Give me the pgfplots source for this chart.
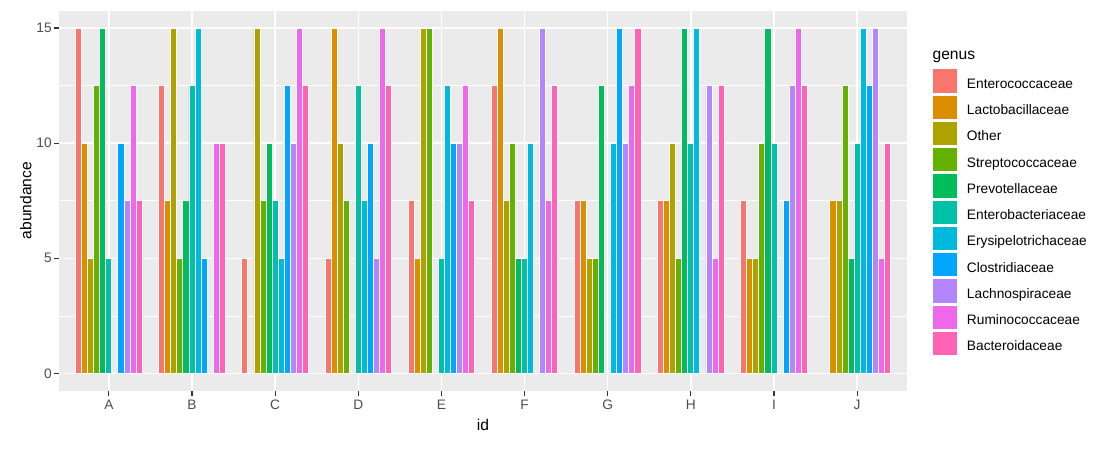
\documentclass[border=0pt]{standalone}
\usepackage{fontspec}
\setmainfont{Liberation Sans}
\usepackage{pgfplots}
\pgfplotsset{compat=1.18}
\definecolor{c1}{HTML}{F8766D}
\definecolor{c2}{HTML}{DB8E00}
\definecolor{c3}{HTML}{AEA200}
\definecolor{c4}{HTML}{64B200}
\definecolor{c5}{HTML}{00BD5C}
\definecolor{c6}{HTML}{00C1A7}
\definecolor{c7}{HTML}{00BADE}
\definecolor{c8}{HTML}{00A6FF}
\definecolor{c9}{HTML}{B385FF}
\definecolor{c10}{HTML}{EF67EB}
\definecolor{c11}{HTML}{FF63B6}
\definecolor{panelgrey}{HTML}{EBEBEB}
\definecolor{labelgrey}{HTML}{4D4D4D}
\definecolor{tickgrey}{HTML}{333333}
\pgfplotsset{
  gbar/.style={fill=#1, draw=white, line width=0.7pt,
    legend image code/.code={\fill[#1,draw=none] (0pt,-8.75pt) rectangle (18pt,8.75pt);}},
}
\begin{document}
\begin{tikzpicture}
\useasboundingbox (-44.25pt,-45.2pt) rectangle (779.25pt,293.05pt);
\begin{axis}[
  at={(0,0)}, anchor=south west,
  scale only axis, width=636pt, height=285pt,
  clip=false,
  xmin=0.4, xmax=10.6, ymin=-0.75, ymax=15.75,
  xtick={1,2,3,4,5,6,7,8,9,10},
  xticklabels={A,B,C,D,E,F,G,H,I,J},
  ytick={0,5,10,15}, minor ytick={2.5,7.5,12.5},
  grid=both,
  major grid style={white, line width=1.1pt},
  minor grid style={white, line width=0.55pt},
  axis background/.style={fill=panelgrey},
  axis line style={draw=none},
  xtick pos=lower, ytick pos=left,
  tick align=outside,
  major tick length=3.75pt, minor tick length=0pt,
  tick style={color=tickgrey, line width=0.8pt},
  /pgf/number format/assume math mode=true,
  tick label style={font=\fontsize{10.3}{12}\selectfont, text=labelgrey},
  xticklabel style={inner sep=0pt, yshift=-3pt},
  yticklabel style={inner sep=0pt, xshift=-1.5pt},
  xlabel={id}, ylabel={abundance},
  every axis x label/.style={at={(axis description cs:0.5,-0.0891)}, anchor=center, font=\fontsize{11.7}{14}\selectfont},
  every axis y label/.style={at={(axis description cs:-0.0392,0.5)}, anchor=center, rotate=90, font=\fontsize{11.7}{14}\selectfont},
  ybar, bar width=0.0727273,
  legend cell align=left,
  legend style={at={(axis description cs:1.0303,0.8467)}, anchor=north west,
    draw=none, fill=none, inner sep=0pt, row sep=2.2pt, column sep=7.5pt,
    font=\fontsize{10.3}{12}\selectfont,
    nodes={inner sep=0pt, anchor=west, text height=11pt, text depth=0pt}},
]
\addplot[gbar=c1, bar shift=-0.363636] coordinates {(1,15) (2,12.5) (3,5) (4,5) (5,7.5) (6,12.5) (7,7.5) (8,7.5) (9,7.5)};
\addlegendentry{Enterococcaceae}
\addplot[gbar=c2, bar shift=-0.290909] coordinates {(1,10) (2,7.5) (4,15) (5,5) (6,15) (7,7.5) (8,7.5) (9,5) (10,7.5)};
\addlegendentry{Lactobacillaceae}
\addplot[gbar=c3, bar shift=-0.218182] coordinates {(1,5) (2,15) (3,15) (4,10) (5,15) (6,7.5) (7,5) (8,10) (9,5) (10,7.5)};
\addlegendentry{Other}
\addplot[gbar=c4, bar shift=-0.145455] coordinates {(1,12.5) (2,5) (3,7.5) (4,7.5) (5,15) (6,10) (7,5) (8,5) (9,10) (10,12.5)};
\addlegendentry{Streptococcaceae}
\addplot[gbar=c5, bar shift=-0.072727] coordinates {(1,15) (2,7.5) (3,10) (6,5) (7,12.5) (8,15) (9,15) (10,5)};
\addlegendentry{Prevotellaceae}
\addplot[gbar=c6, bar shift=0] coordinates {(1,5) (2,12.5) (3,7.5) (4,12.5) (5,5) (6,5) (8,10) (9,10) (10,10)};
\addlegendentry{Enterobacteriaceae}
\addplot[gbar=c7, bar shift=0.072727] coordinates {(2,15) (3,5) (4,7.5) (5,12.5) (6,10) (7,10) (8,15) (10,15)};
\addlegendentry{Erysipelotrichaceae}
\addplot[gbar=c8, bar shift=0.145455] coordinates {(1,10) (2,5) (3,12.5) (4,10) (5,10) (7,15) (9,7.5) (10,12.5)};
\addlegendentry{Clostridiaceae}
\addplot[gbar=c9, bar shift=0.218182] coordinates {(1,7.5) (3,10) (4,5) (5,10) (6,15) (7,10) (8,12.5) (9,12.5) (10,15)};
\addlegendentry{Lachnospiraceae}
\addplot[gbar=c10, bar shift=0.290909] coordinates {(1,12.5) (2,10) (3,15) (4,15) (5,12.5) (6,7.5) (7,12.5) (8,5) (9,15) (10,5)};
\addlegendentry{Ruminococcaceae}
\addplot[gbar=c11, bar shift=0.363636] coordinates {(1,7.5) (2,10) (3,12.5) (4,12.5) (5,7.5) (6,12.5) (7,15) (8,12.5) (9,12.5) (10,10)};
\addlegendentry{Bacteroidaceae}
\node[anchor=base west, inner sep=0pt, font=\fontsize{11.7}{14}\selectfont] at (axis description cs:1.0299,0.8721) {genus};
\end{axis}
\end{tikzpicture}
\end{document}
